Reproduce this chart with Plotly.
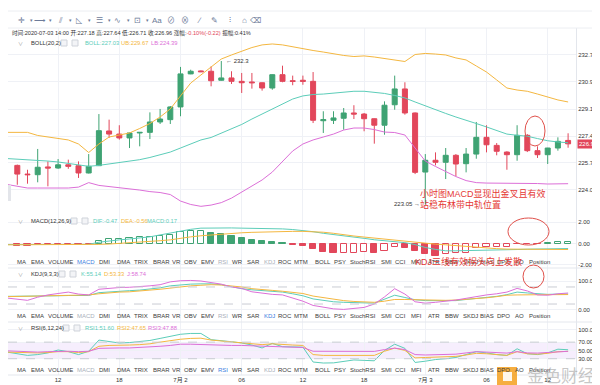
import pandas as pd
import plotly.graph_objects as go
from plotly.subplots import make_subplots

# ---------------- data ----------------
# hourly bars; the first time stamp is one bar before the first visible candle (lines start there)
TIMES = pd.date_range("2020-07-01 07:00", periods=56, freq="h")
CANDLE_TIMES = TIMES[1:]

OPEN = [225.57, 225.01, 224.97, 225.47, 225.40, 225.61, 225.55, 225.08, 225.55, 227.79,
        227.59, 227.34, 227.66, 227.70, 228.37, 228.52, 229.34, 231.47, 231.66, 231.64,
        231.06, 231.21, 230.99, 230.95, 230.90, 230.56, 231.42, 231.03, 231.06, 230.99,
        228.45, 228.48, 228.61, 228.95, 228.88, 228.58, 228.16, 229.48, 230.50, 228.95,
        225.14, 225.90, 225.77, 226.22, 225.68, 226.30, 227.38, 226.86, 226.43, 226.26,
        227.51, 226.52, 226.26, 226.69, 227.18]
HIGH = [225.62, 225.29, 226.63, 225.83, 225.98, 225.94, 225.83, 226.30, 228.88, 228.52,
        228.16, 227.68, 227.72, 228.99, 229.21, 229.40, 231.92, 231.74, 231.69, 231.96,
        232.30, 231.64, 231.53, 231.53, 230.92, 231.44, 232.00, 231.36, 231.36, 231.59,
        229.06, 229.06, 229.27, 229.45, 228.95, 228.60, 229.70, 231.36, 230.93, 228.98,
        226.30, 226.41, 226.69, 226.30, 226.69, 228.37, 228.16, 227.01, 226.48, 228.16,
        227.59, 226.80, 226.70, 227.38, 227.64]
LOW = [224.32, 224.39, 224.48, 224.22, 225.35, 225.35, 224.76, 225.05, 225.53, 227.34,
       227.23, 226.69, 226.80, 227.27, 228.24, 228.24, 228.74, 231.45, 231.59, 230.67,
       231.03, 230.82, 230.24, 230.52, 230.39, 230.45, 230.93, 230.74, 230.77, 228.30,
       227.66, 228.24, 227.87, 228.56, 227.77, 226.97, 227.55, 229.16, 228.84, 225.01,
       223.05, 225.57, 224.69, 224.87, 225.12, 226.00, 226.41, 226.22, 225.29, 225.87,
       226.43, 226.05, 225.66, 226.52, 226.71]
CLOSE = [225.01, 224.97, 225.45, 225.40, 225.61, 225.51, 225.08, 225.51, 227.81, 227.59,
         227.34, 227.66, 227.70, 228.37, 228.56, 229.34, 231.47, 231.64, 231.61, 231.03,
         231.21, 230.99, 230.90, 230.90, 230.56, 231.42, 230.99, 230.99, 230.99, 228.48,
         228.52, 228.63, 228.95, 228.88, 228.58, 228.16, 229.45, 230.50, 228.95, 225.12,
         225.90, 225.77, 226.22, 225.66, 226.30, 227.38, 226.90, 226.48, 226.26, 227.51,
         226.52, 226.26, 226.69, 227.12, 226.96]

BOLL_UB = [227.70, 227.70, 227.70, 227.50, 227.40, 227.34, 227.21, 226.95, 226.40, 226.95,
           227.40, 227.53, 227.66, 227.95, 228.27, 228.69, 229.21, 230.05, 230.88, 231.40,
           231.92, 232.43, 232.69, 232.95, 233.17, 233.34, 233.40, 233.34, 233.21, 233.11,
           232.98, 232.88, 232.75, 232.66, 232.59, 232.63, 232.56, 232.47, 232.40, 232.27,
           232.72, 232.79, 232.75, 232.69, 232.50, 232.37, 231.98, 231.59, 231.08, 230.56,
           230.43, 230.35, 230.17, 229.96, 229.79, 229.66]
BOLL_MID = [226.01, 225.98, 225.95, 225.92, 225.85, 225.79, 225.69, 225.59, 225.51, 225.57,
            225.66, 225.76, 225.85, 225.94, 226.08, 226.27, 226.43, 226.69, 226.95, 227.21,
            227.37, 227.66, 227.92, 228.21, 228.56, 228.88, 229.21, 229.53, 229.85, 230.05,
            230.14, 230.17, 230.24, 230.30, 230.35, 230.35, 230.30, 230.21, 230.08, 229.92,
            229.66, 229.40, 229.17, 228.92, 228.69, 228.50, 228.27, 228.05, 227.82, 227.59,
            227.51, 227.45, 227.30, 227.16, 227.08, 227.03]
BOLL_LB = [224.34, 224.24, 224.11, 224.11, 224.11, 224.11, 224.11, 224.17, 224.46, 224.28,
           224.21, 224.14, 224.08, 223.98, 223.88, 223.82, 223.69, 223.27, 223.05, 222.93,
           223.01, 223.17, 223.46, 223.85, 224.24, 224.63, 225.14, 225.79, 226.50, 226.95,
           227.21, 227.40, 227.59, 227.85, 227.98, 227.98, 227.88, 227.72, 227.69, 227.53,
           226.69, 225.85, 225.50, 225.17, 224.85, 224.59, 224.46, 224.43, 224.43, 224.43,
           224.43, 224.43, 224.40, 224.37, 224.37, 224.39]

MACD_HIST = [-0.25, -0.20, -0.17, -0.07, -0.06, -0.06, -0.05, -0.06, 0.28, 0.43,
             0.46, 0.50, 0.56, 0.62, 0.71, 0.81, 1.05, 1.12, 1.18, 0.96,
             0.93, 0.71, 0.50, 0.34, 0.19, 0.12, 0.06, -0.12, -0.19, -0.50,
             -0.80, -0.92, -0.90, -0.88, -0.80, -0.90, -0.68, -0.37, -0.40, -0.74,
             -0.99, -1.15, -1.00, -0.90, -0.84, -0.43, -0.37, -0.34, -0.28, -0.06,
             -0.05, -0.03, 0.08, 0.14, 0.17]
DIF = [-0.10, -0.10, -0.12, -0.12, -0.10, -0.10, -0.10, -0.10, -0.08, 0.12,
       0.25, 0.34, 0.42, 0.50, 0.62, 0.80, 0.98, 1.18, 1.32, 1.43,
       1.45, 1.46, 1.45, 1.43, 1.42, 1.40, 1.38, 1.36, 1.30, 1.22,
       1.10, 0.95, 0.85, 0.74, 0.60, 0.48, 0.35, 0.25, 0.19, 0.08,
       -0.10, -0.37, -0.55, -0.68, -0.68, -0.67, -0.65, -0.63, -0.61, -0.59,
       -0.56, -0.53, -0.50, -0.49, -0.48, -0.47]
DEA = [-0.12, -0.12, -0.12, -0.12, -0.12, -0.11, -0.11, -0.11, -0.10, -0.08,
       -0.05, 0.00, 0.05, 0.10, 0.18, 0.26, 0.34, 0.50, 0.62, 0.72,
       0.80, 0.88, 0.94, 1.00, 1.04, 1.08, 1.10, 1.12, 1.13, 1.13,
       1.12, 1.05, 0.95, 0.80, 0.70, 0.60, 0.50, 0.43, 0.33, 0.22,
       0.10, 0.00, -0.06, -0.12, -0.20, -0.28, -0.35, -0.43, -0.48, -0.52,
       -0.53, -0.54, -0.55, -0.55, -0.56, -0.56]

KDJ_K = [47, 47, 47, 47, 48, 49, 50, 50, 50, 60, 63, 65, 67, 69, 72, 77, 84, 88, 90, 91,
         91, 88, 80, 74, 70, 68, 66, 62, 56, 49, 38, 33, 28, 26, 24, 24, 23, 36, 51, 43,
         35, 32, 32, 32, 32, 36, 39, 42, 47, 53, 62, 59, 56, 54, 55, 55.14]
KDJ_D = [46, 46, 47, 48, 49, 50, 51, 52, 52, 56, 60, 62, 63, 65, 69, 72, 76, 81, 84, 86,
         88, 87, 84, 80, 74, 70, 68, 65, 61, 57, 48, 42, 36, 32, 29, 27, 26, 30, 36, 36,
         35, 34, 33, 33, 34, 36, 39, 42, 46, 51, 52, 53, 53, 53, 53, 53.33]
KDJ_J = [41, 37, 33, 44, 52, 57, 62, 55, 52, 72, 76, 78, 79, 81, 84, 88, 98, 102, 103, 101,
         96, 90, 80, 75, 63, 58, 54, 52, 42, 30, 15, 10, 3, 1, 4, 8, 20, 45, 74, 55,
         28, 23, 26, 29, 34, 40, 47, 52, 56, 62, 75, 66, 52, 51, 56, 58.74]

RSI1 = [46, 42, 38, 40, 44, 51, 47, 40, 48, 75, 72, 68, 69, 71, 74, 79, 84, 89, 91, 91,
        76, 74, 71, 68, 63, 56, 67, 59, 59, 58, 22, 19.6, 20, 23, 27, 26, 25, 50, 65, 55,
        21, 24, 28, 30, 33, 40, 47, 44, 40, 38, 54, 42, 40, 44, 53, 51.6]
RSI2 = [46, 45, 44, 44, 45, 47, 47, 45, 47, 60, 62, 62, 63, 64, 66, 70, 74, 77, 79, 79.5,
        75, 73, 71, 69, 67, 64, 66, 64, 63, 62, 40, 38, 38, 38, 38, 38, 38, 48, 55.6, 50,
        32, 33, 34, 35, 35.6, 39, 43, 42, 40, 38, 47, 42, 41, 43, 47, 47.65]
RSI3 = [49, 48, 47, 46, 47, 48, 48, 47, 48, 55, 56, 56, 56, 57, 58, 60, 62, 65, 65, 64,
        63, 63, 62, 62, 61, 60, 60, 59, 58, 57, 48, 48, 47.6, 47.6, 47.6, 47.6, 47.6, 52, 55.6, 52,
        40, 39, 40, 40, 41, 44, 47, 46, 44.5, 43.6, 47, 44, 43.6, 45, 47.5, 47.88]

PRICE_TICKS = [232.71, 230.95, 229.19, 227.45, 225.73, 224.01]
MACD_TICKS = [2, 0, -2]
KDJ_TICKS = [100, 0]
RSI_TICKS = [100, 70, 50, 30]
DATE_LABELS = ["12", "18", "7月 2", "06", "12", "18", "7月 3", "06", "12"]

TAB_NAMES = ["MA", "EMA", "VOLUME", "MACD", "DMI", "DMA", "TRIX", "BRAR", "VR", "OBV", "EMV",
             "RSI", "WR", "SAR", "KDJ", "ROC", "MTM", "BOLL", "PSY", "StochRSI", "SMI", "CCI",
             "MFI", "ATR", "BBW", "SKDJ", "BIAS", "DPO", "AO", "Position"]

INFO = ('时间:2020-07-03 14:00 开:227.18 高:227.64 低:226.71 收:226.96 涨幅:'
        '<span style="color:#e2475b">-0.10%(-0.22)</span> 振幅:0.41%')
NOTE1 = "小时图MACD显现出金叉且有效"
NOTE2 = "站稳布林带中轨位置"
NOTE3 = "KDJ三线有效拐头向上发散"

# ---------------- style / layout ----------------
W, H = 600, 385
PLOT_R = 568
GREEN = "#3fa373"
RED = "#e2475b"
TEAL = "#5ccdb9"
ORANGE = "#f4b740"
PINK = "#dc6fd8"
GRID = "#eff1f6"
FONT = "Liberation Sans, Arial, Noto Sans CJK SC, sans-serif"
TAB_X = [13, 29, 52, 78, 97, 115, 133, 153, 168, 182, 199, 215, 229, 245, 261, 277, 293,
         315, 332, 355, 378, 392, 408, 426, 444, 462, 479, 495, 511, 531]


def px(x):
    return x / W


def py(y):
    return 1 - y / H


HOUR = pd.Timedelta(hours=1)
x_range = [CANDLE_TIMES[0] - 0.912 * HOUR, CANDLE_TIMES[0] + 54.775 * HOUR]

fig = make_subplots(rows=4, cols=1, shared_xaxes=True, vertical_spacing=0)

fig.add_trace(go.Candlestick(
    x=CANDLE_TIMES, open=OPEN, high=HIGH, low=LOW, close=CLOSE,
    increasing=dict(line=dict(color=GREEN, width=1), fillcolor=GREEN),
    decreasing=dict(line=dict(color=RED, width=1), fillcolor=RED),
    whiskerwidth=0, showlegend=False, hoverinfo="skip"), row=1, col=1)
for vals, c in [(BOLL_UB, ORANGE), (BOLL_MID, TEAL), (BOLL_LB, PINK)]:
    fig.add_trace(go.Scatter(x=TIMES, y=vals, mode="lines", line=dict(color=c, width=1),
                             showlegend=False, hoverinfo="skip"), row=1, col=1)

# MACD histogram: filled when the bar grows away from zero (negative) / shrinks (positive)
fills, outlines = [], []
prev = None
for v in MACD_HIST:
    base = GREEN if v >= 0 else RED
    if v < 0:
        hollow = prev is not None and prev < 0 and abs(v) < abs(prev)
    else:
        hollow = prev is None or v >= prev
    fills.append("white" if hollow else base)
    outlines.append(base)
    prev = v
fig.add_trace(go.Bar(x=CANDLE_TIMES, y=MACD_HIST, width=0.6 * 3600000,
                     marker=dict(color=fills, line=dict(color=outlines, width=1)),
                     showlegend=False, hoverinfo="skip"), row=2, col=1)
for vals, c in [(DIF, TEAL), (DEA, ORANGE)]:
    fig.add_trace(go.Scatter(x=TIMES, y=vals, mode="lines", line=dict(color=c, width=1),
                             showlegend=False, hoverinfo="skip"), row=2, col=1)
for vals, c in [(KDJ_K, TEAL), (KDJ_D, ORANGE), (KDJ_J, PINK)]:
    fig.add_trace(go.Scatter(x=TIMES, y=vals, mode="lines", line=dict(color=c, width=1),
                             showlegend=False, hoverinfo="skip"), row=3, col=1)
for vals, c in [(RSI1, TEAL), (RSI2, ORANGE), (RSI3, PINK)]:
    fig.add_trace(go.Scatter(x=TIMES, y=vals, mode="lines", line=dict(color=c, width=1),
                             showlegend=False, hoverinfo="skip"), row=4, col=1)

domains = [[py(205), py(20)], [py(260), py(205)], [py(314), py(260)], [py(367), py(314)]]
ranges = [[222.50, 234.43], [-2.28, 2.84], [-43.3, 146.8], [-9.3, 118.6]]
tickvals = [PRICE_TICKS, MACD_TICKS, KDJ_TICKS, RSI_TICKS]
for i in range(4):
    fig.update_yaxes(row=i + 1, col=1, domain=domains[i], range=ranges[i], side="right",
                     tickvals=tickvals[i], ticktext=[f"{v:.2f}" for v in tickvals[i]],
                     showgrid=True, gridcolor=GRID, zeroline=False, showline=True,
                     linecolor="#e3e6ec", ticks="", automargin=False,
                     tickfont=dict(size=6, color="#333"), ticklabelstandoff=0)
    fig.update_xaxes(row=i + 1, col=1, domain=[0, PLOT_R / W], range=x_range,
                     tickvals=list(CANDLE_TIMES[4::6]), ticktext=DATE_LABELS,
                     showgrid=True, gridcolor=GRID, zeroline=False, showline=False,
                     ticks="", rangeslider=dict(visible=False), automargin=False,
                     showticklabels=(i == 3), tickfont=dict(size=6, color="#333"))

shapes = []
# KDJ dashed 80/20 lines, RSI band 30-70
for yv in (80, 20):
    shapes.append(dict(type="line", xref="x3 domain", yref="y3", x0=0, x1=1, y0=yv, y1=yv,
                       line=dict(color="#c9ccd3", width=1, dash="dash")))
shapes.append(dict(type="rect", xref="x4 domain", yref="y4", x0=0, x1=1, y0=30, y1=70,
                   fillcolor="rgba(196,150,240,0.16)", line=dict(width=0), layer="below"))
for yv in (70, 30):
    shapes.append(dict(type="line", xref="x4 domain", yref="y4", x0=0, x1=1, y0=yv, y1=yv,
                       line=dict(color="#c9ccd3", width=1, dash="dash")))
# panel separators
for yy in (260, 314, 367, 379):
    shapes.append(dict(type="line", xref="paper", yref="paper", x0=0, x1=1, y0=py(yy), y1=py(yy),
                       line=dict(color="#e4e7ed", width=1)))
for yy in (3, 20):
    shapes.append(dict(type="line", xref="paper", yref="paper", x0=0, x1=1, y0=py(yy), y1=py(yy),
                       line=dict(color="#eceef2", width=1)))
shapes.append(dict(type="rect", xref="paper", yref="paper", x0=0, x1=1, y0=0, y1=py(379),
                   fillcolor="#eef0f4", line=dict(width=0)))
shapes.append(dict(type="rect", xref="paper", yref="paper", x0=0, x1=px(3), y0=py(193), y1=py(177),
                   fillcolor="#e3e5ea", line=dict(width=0)))
# red circles
for (x0, y0, x1, y1) in [(517, 108, 537, 138), (500, 210, 541, 237), (515, 257, 536, 280)]:
    shapes.append(dict(type="circle", xref="paper", yref="paper", x0=px(x0), x1=px(x1),
                       y0=py(y1), y1=py(y0), line=dict(color="#e0504a", width=1)))
# watermark logo
shapes.append(dict(type="rect", xref="paper", yref="paper", x0=px(489), x1=px(509),
                   y0=py(378), y1=py(359), fillcolor="rgba(245,160,30,0.85)", line=dict(width=0)))
shapes.append(dict(type="rect", xref="paper", yref="paper", x0=px(495), x1=px(504),
                   y0=py(373), y1=py(364), fillcolor="rgba(255,255,255,0.9)", line=dict(width=0)))

ann = []


def note(x, y, text, size=6, color="#333", anchor="left", bg=None):
    d = dict(x=px(x), y=py(y), xref="paper", yref="paper", text=text, showarrow=False,
             xanchor=anchor, yanchor="middle", font=dict(size=size, color=color, family=FONT))
    if bg:
        d.update(bgcolor=bg, borderpad=1)
    ann.append(d)


# toolbar
TOOL_ICONS = [(13, "✛"), (32, "⟶"), (52, "⫽"), (71, "◺"), (91, "☰"), (110, "∿"), (129, "⊡"),
              (149, "Aa"), (163, "⊘"), (177, "⊗"), (191, "∕"), (207, "✎"), (222, "⫶"),
              (236, "⌂"), (247, "⌫")]
for i, (x, t) in enumerate(TOOL_ICONS):
    note(x, 12, t, size=8, color="#6d7b99", anchor="center")
    if i < 7:
        note(x + 10, 12, "▾", size=5, color="#6d7b99", anchor="center")

note(2, 25, INFO, size=5.6, color="#333")

# indicator legends
LEG_ROWS = [
    (35, "BOLL(20,2)", (53, 64), [("BOLL:227.03", TEAL, 75), ("UB:229.67", ORANGE, 111), ("LB:224.39", PINK, 141)]),
    (213, "MACD(12,26,9)", (63, 74), [("DIF:-0.47", TEAL, 83), ("DEA:-0.56", ORANGE, 111), ("MACD:0.17", TEAL, 137)]),
    (266, "KDJ(9,3,3)", (51, 62), [("K:55.14", TEAL, 71), ("D:53.33", ORANGE, 94), ("J:58.74", PINK, 117)]),
    (320, "RSI(6,12,24)", (55, 66), [("RSI1:51.60", TEAL, 75), ("RSI2:47.65", ORANGE, 107), ("RSI3:47.88", PINK, 138)]),
]
for y, title, boxes, items in LEG_ROWS:
    note(12, y, "∨", size=5, color="#999", anchor="center")
    note(21, y, title, size=5.8, color="#333")
    for bx in boxes:
        shapes.append(dict(type="rect", xref="paper", yref="paper", x0=px(bx), x1=px(bx + 6),
                           y0=py(y + 3), y1=py(y - 3), fillcolor="#f3f4f7",
                           line=dict(color="#cfd3da", width=1)))
    for t, c, x in items:
        note(x, y, t, size=5.8, color=c)

# indicator tab rows
for y, active in [(254, "MACD"), (308, "KDJ"), (362, "RSI")]:
    for name, x in zip(TAB_NAMES, TAB_X):
        if name == active:
            col = "#3d7ee0"
        elif name in ("MACD", "KDJ", "RSI"):
            col = "#aab0bb"
        else:
            col = "#3b3b3b"
        note(x, y, name, size=6, color=col, anchor="center")

# price extremes
ann.append(dict(x=CANDLE_TIMES[20] + 0.3 * HOUR, y=232.30, xref="x", yref="y", text="← 232.3",
                showarrow=False, xanchor="left", yanchor="middle", font=dict(size=6, color="#333", family=FONT)))
ann.append(dict(x=CANDLE_TIMES[40] - 0.3 * HOUR, y=223.05, xref="x", yref="y", text="223.05 →",
                showarrow=False, xanchor="right", yanchor="middle", font=dict(size=6, color="#333", family=FONT)))
# current price tag
ann.append(dict(x=px(569), y=CLOSE[-1], xref="paper", yref="y", text=f"{CLOSE[-1]:.2f}",
                showarrow=False, xanchor="left", yanchor="middle", bgcolor=RED, borderpad=1,
                font=dict(size=6, color="white", family=FONT)))

# red commentary
note(410, 185, NOTE1, size=9, color="#e53935")
note(410, 197, NOTE2, size=9, color="#e53935")
note(405, 253, NOTE3, size=9, color="#e53935")

# watermark
note(553, 368, "金色财经", size=17, color="rgba(150,150,150,0.55)", anchor="center")

fig.update_layout(width=W, height=H, margin=dict(l=0, r=0, t=0, b=0),
                  paper_bgcolor="white", plot_bgcolor="white", showlegend=False,
                  font=dict(family=FONT, size=6, color="#333"), bargap=0,
                  shapes=shapes, annotations=ann)

fig.write_html("out.html")
